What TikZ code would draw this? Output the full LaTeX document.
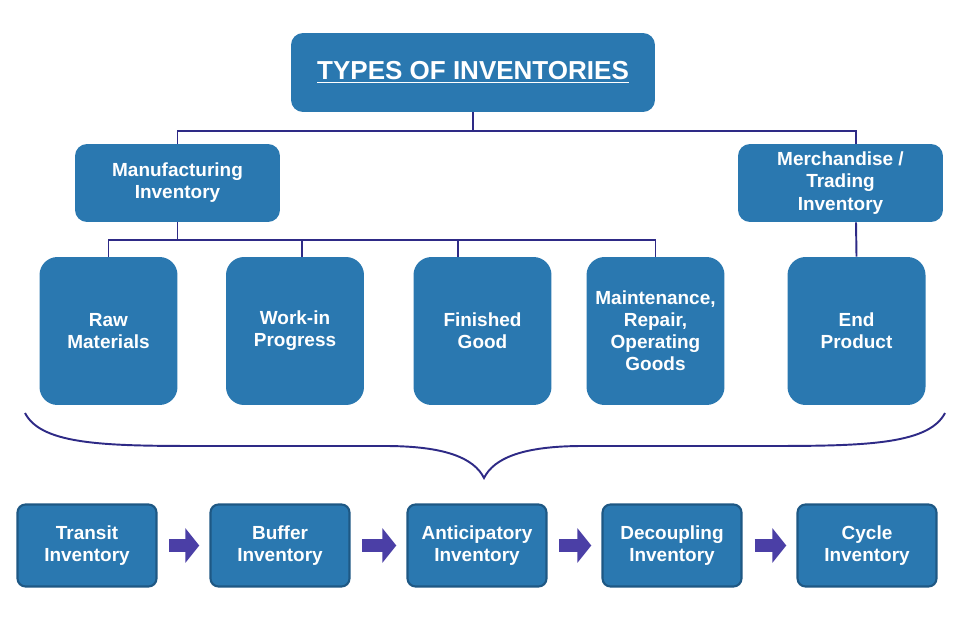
\documentclass[tikz,border=0pt]{standalone}
\usepackage{fontspec}
\setmainfont{Liberation Sans}
\usepackage{tikz}
\usetikzlibrary{arrows.meta}

\definecolor{boxblue}{RGB}{42,120,176}
\definecolor{boxedge}{RGB}{30,88,132}
\definecolor{linknavy}{RGB}{46,42,134}
\definecolor{flowpurple}{RGB}{75,63,166}

\tikzset{
	typebox/.style={shape=rectangle, fill=boxblue, text=white, align=center, inner sep=0, font=\fontsize{10.8}{12.6}\selectfont\bfseries},
	kindbox/.style={typebox, minimum width=2.76cm, minimum height=2.96cm, rounded corners=0.36cm},
	stagebox/.style={typebox, draw=boxedge, line width=1.2pt, minimum width=2.78cm, minimum height=1.64cm, rounded corners=0.16cm},
	link/.style={draw=linknavy, line width=1.1pt},
	flow/.style={draw=flowpurple, line width=7.9pt, -{Triangle[length=7.9pt, width=19.3pt]}, shorten <=6.8pt, shorten >=5.8pt},
}

\begin{document}
\begin{tikzpicture}[x=0.02cm, y=-0.02cm]
	% Boxes, connectors and brace:
	\useasboundingbox (0, 0) rectangle (969, 631);
	\node[typebox, minimum width=7.28cm, minimum height=1.58cm, rounded corners=0.24cm, font=\fontsize{14.8}{17}\selectfont\bfseries](Title) at (473, 72.5){\underline{TYPES OF INVENTORIES}};
	\node[typebox, minimum width=4.1cm, minimum height=1.56cm, rounded corners=0.24cm](Manuf) at (177.5, 183){Manufacturing\\Inventory};
	\node[typebox, minimum width=4.1cm, minimum height=1.56cm, rounded corners=0.24cm](Merch) at (840.5, 183){Merchandise /\\Trading\\Inventory};
	\node[kindbox](Raw) at (108.5, 331){Raw\\Materials};
	\node[kindbox](Wip) at (295, 331){Work-in\\Progress};
	\node[kindbox](Fin) at (482.5, 331){Finished\\Good};
	\node[kindbox](Mro) at (655.5, 331){Maintenance,\\Repair,\\Operating\\Goods};
	\node[kindbox](EndP) at (856.5, 331){End\\Product};
	\draw[link] (Title.south) -- (Title.south |- 0, 131);
	\draw[link] (Manuf.north) |- (856, 131) -- (Merch.north -| 856, 0);
	\draw[link] (Merch.south -| 856, 0) -- (EndP.north);
	\draw[link] (Manuf.south) -- (Manuf.south |- 0, 240);
	\draw[link] (Raw.north) |- (Mro.north |- 0, 240) -- (Mro.north);
	\draw[link] (302, 240) -- (Wip.north -| 302, 0);
	\draw[link] (458, 240) -- (Fin.north -| 458, 0);
	\coordinate (BraceL) at (25, 413);
	\coordinate (BraceTip) at (484, 478);
	\coordinate (BraceR) at (945, 413);
	\draw[link] (BraceL) .. controls (42, 446) and (110, 446) .. (210, 446) -- (385, 446) .. controls (445, 446) and (474, 458) .. (BraceTip) .. controls (494, 458) and (523, 446) .. (583, 446) -- (758, 446) .. controls (858, 446) and (928, 446) .. (BraceR);
	\node[stagebox](Transit) at (87, 545.5){Transit\\Inventory};
	\node[stagebox](Buffer) at (280, 545.5){Buffer\\Inventory};
	\node[stagebox](Antic) at (477, 545.5){Anticipatory\\Inventory};
	\node[stagebox](Decoup) at (672, 545.5){Decoupling\\Inventory};
	\node[stagebox](Cycle) at (867, 545.5){Cycle\\Inventory};
	\draw[flow] (Transit) -- (Buffer);
	\draw[flow] (Buffer) -- (Antic);
	\draw[flow] (Antic) -- (Decoup);
	\draw[flow] (Decoup) -- (Cycle);
\end{tikzpicture}
\end{document}
